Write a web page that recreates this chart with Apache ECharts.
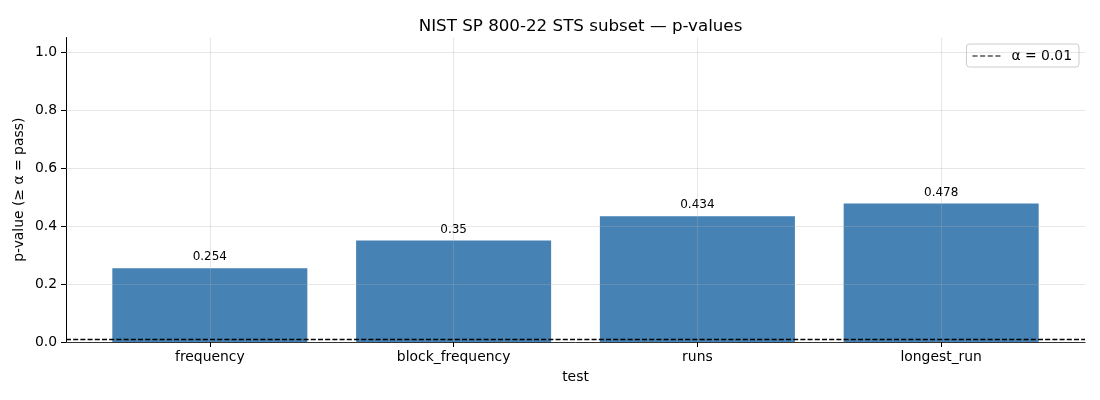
<!DOCTYPE html>
<html>
<head>
<meta charset="utf-8">
<script src="https://cdn.jsdelivr.net/npm/echarts@6/dist/echarts.min.js"></script>
<style>
  html, body { margin: 0; padding: 0; background: #fff; }
  #chart { width: 1100px; height: 400px; }
</style>
</head>
<body>
<div id="chart"></div>
<script>
var tests = ['frequency', 'block_frequency', 'runs', 'longest_run'];
var pValues = [0.254, 0.35, 0.434, 0.478];
var alpha = 0.01;
var yTicks = [0, 0.2, 0.4, 0.6, 0.8, 1.0];
var yMax = 1.05;
var xPad = 0.59; // matplotlib margin around the bars, in category units

var font = 'DejaVu Sans';
var gridColor = 'rgba(176,176,176,0.3)';

var chart = echarts.init(document.getElementById('chart'));

// plot frame in pixels
var plotLeft = 66, plotRight = 15, plotTop = 37.5, plotBottom = 58;
var unit = (1100 - plotLeft - plotRight) / (tests.length - 1 + 2 * xPad);
var barsLeft = plotLeft + xPad * unit;
var barsRight = plotRight + xPad * unit;
var tickTop = plotTop + (yMax - yTicks[yTicks.length - 1]) / yMax * (400 - plotTop - plotBottom);

var option = {
  animation: false,
  textStyle: { fontFamily: font },
  title: {
    text: 'NIST SP 800-22 STS subset — p-values',
    left: (plotLeft + 1100 - plotRight) / 2,
    textAlign: 'center',
    top: 13,
    textStyle: { fontFamily: font, fontSize: 16.7, fontWeight: 'normal', color: '#000' }
  },
  legend: {
    right: 21,
    top: 44,
    padding: [5, 7, 4, 6],
    borderColor: '#cccccc',
    borderWidth: 1,
    borderRadius: 3,
    backgroundColor: 'rgba(255,255,255,0.8)',
    itemWidth: 28,
    itemHeight: 1.6,
    data: [{
      name: 'α = 0.01',
      icon: 'path://M0,0h5v1h-5zM7.6,0h5v1h-5zM15.2,0h5v1h-5zM22.8,0h5v1h-5z',
      itemStyle: { color: '#000' }
    }],
    textStyle: { fontFamily: font, fontSize: 13.9, color: '#000', padding: [0, 0, 0, 6] }
  },
  grid: [
    // frame: spines + alpha line
    { left: plotLeft, right: plotRight, top: plotTop, bottom: plotBottom },
    // bars: category centres sit at the ends of this grid
    { left: barsLeft, right: barsRight, top: plotTop, bottom: plotBottom },
    // y ticks 0..1.0
    { left: plotLeft, right: plotRight, top: tickTop, bottom: plotBottom }
  ],
  xAxis: [
    {
      gridIndex: 0, type: 'value', min: -xPad, max: tests.length - 1 + xPad,
      axisLine: { show: true, onZero: false, lineStyle: { color: '#000', width: 1 } },
      axisTick: { show: false }, axisLabel: { show: false }, splitLine: { show: false },
      name: 'test', nameLocation: 'middle', nameGap: 28,
      nameTextStyle: { fontFamily: font, fontSize: 13.9, color: '#000' }
    },
    {
      gridIndex: 1, type: 'category', data: tests, boundaryGap: false, z: 5,
      axisLine: { show: false },
      axisTick: { show: true, inside: false, length: 5, lineStyle: { color: '#000' } },
      axisLabel: { fontFamily: font, fontSize: 13.9, color: '#000', margin: 8 },
      splitLine: { show: true, lineStyle: { color: gridColor, width: 1 } }
    },
    {
      gridIndex: 2, type: 'value', min: 0, max: 1, show: false
    }
  ],
  yAxis: [
    {
      gridIndex: 0, type: 'value', min: 0, max: yMax,
      axisLine: { show: true, onZero: false, lineStyle: { color: '#000', width: 1 } },
      axisTick: { show: false }, axisLabel: { show: false }, splitLine: { show: false },
      name: 'p-value (≥ α = pass)', nameLocation: 'middle', nameGap: 40,
      nameTextStyle: { fontFamily: font, fontSize: 13.9, color: '#000' }
    },
    {
      gridIndex: 1, type: 'value', min: 0, max: yMax, show: false
    },
    {
      gridIndex: 2, type: 'value', min: yTicks[0], max: yTicks[yTicks.length - 1], interval: 0.2, z: 5,
      axisLine: { show: false },
      axisTick: { show: true, inside: false, length: 5, lineStyle: { color: '#000' } },
      axisLabel: {
        fontFamily: font, fontSize: 13.9, color: '#000', margin: 9,
        formatter: function (v) { return v.toFixed(1); }
      },
      splitLine: { show: true, lineStyle: { color: gridColor, width: 1 } }
    }
  ],
  series: [
    {
      type: 'bar',
      xAxisIndex: 1, yAxisIndex: 1,
      data: pValues,
      barWidth: '80%',
      clip: false,
      z: 2,
      itemStyle: { color: '#4682b4' },
      label: {
        show: true, position: 'top', distance: 5,
        fontFamily: font, fontSize: 12, color: '#000',
        formatter: function (p) { return String(p.value); }
      }
    },
    {
      name: 'α = 0.01',
      type: 'line',
      xAxisIndex: 0, yAxisIndex: 0,
      data: [],
      z: 6,
      lineStyle: { color: '#000' },
      itemStyle: { color: '#000' },
      markLine: {
        silent: true,
        symbol: 'none',
        label: { show: false },
        lineStyle: { color: '#000', type: [5, 2.2], width: 1.3 },
        data: [{ yAxis: alpha }]
      }
    }
  ]
};

chart.setOption(option);
</script>
</body>
</html>
